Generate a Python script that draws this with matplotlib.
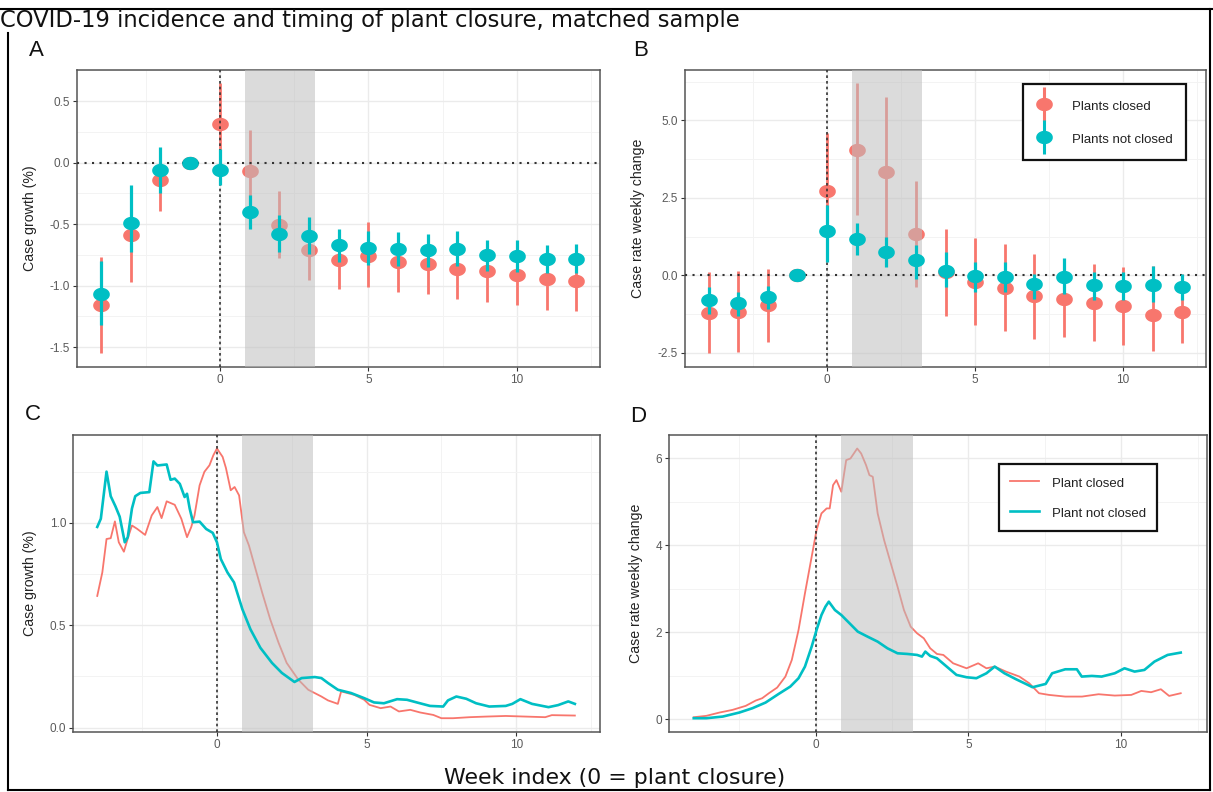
import matplotlib
matplotlib.use('Agg')
import matplotlib.pyplot as plt
import numpy as np
from matplotlib.lines import Line2D
from matplotlib.legend_handler import HandlerTuple

plt.rcParams['font.family'] = ['Liberation Sans', 'DejaVu Sans']

# ---------------- data ----------------
weeks = [-4, -3, -2, -1, 0, 1, 2, 3, 4, 5, 6, 7, 8, 9, 10, 11, 12]

# Panel A: case growth (%) weekly estimates
A_closed_est = [-1.16, -0.59, -0.14, 0.0, 0.31, -0.07, -0.505, -0.714, -0.795, -0.76, -0.81, -0.825, -0.863, -0.885, -0.912, -0.95, -0.966]
A_closed_lo = [-1.55, -0.97, -0.39, 0.0, -0.03, -0.40, -0.776, -0.958, -1.03, -1.01, -1.05, -1.066, -1.107, -1.134, -1.156, -1.20, -1.21]
A_closed_hi = [-0.77, -0.21, 0.12, 0.0, 0.643, 0.263, -0.233, -0.47, -0.56, -0.483, -0.57, -0.585, -0.62, -0.64, -0.67, -0.70, -0.72]
A_open_est = [-1.07, -0.49, -0.057, 0.0, -0.057, -0.40, -0.583, -0.60, -0.673, -0.695, -0.70, -0.714, -0.70, -0.754, -0.76, -0.787, -0.78]
A_open_lo = [-1.32, -0.73, -0.25, 0.0, -0.185, -0.54, -0.727, -0.74, -0.81, -0.83, -0.84, -0.85, -0.84, -0.88, -0.89, -0.90, -0.90]
A_open_hi = [-0.80, -0.185, 0.128, 0.0, 0.11, -0.266, -0.43, -0.44, -0.537, -0.56, -0.565, -0.583, -0.56, -0.632, -0.632, -0.673, -0.665]

# Panel B: case rate weekly change
B_closed_est = [-1.21, -1.17, -0.97, 0.0, 2.71, 4.06, 3.33, 1.33, 0.10, -0.22, -0.41, -0.68, -0.76, -0.89, -1.0, -1.28, -1.19]
B_closed_lo = [-2.51, -2.47, -2.14, 0.0, 0.8, 1.95, 1.0, -0.38, -1.30, -1.60, -1.79, -2.06, -2.0, -2.13, -2.25, -2.44, -2.19]
B_closed_hi = [0.11, 0.13, 0.22, 0.0, 4.6, 6.19, 5.74, 3.05, 1.49, 1.21, 1.0, 0.70, 0.5, 0.38, 0.27, 0.29, 0.05]
B_open_est = [-0.79, -0.89, -0.70, 0.0, 1.43, 1.17, 0.76, 0.49, 0.15, -0.02, -0.05, -0.29, -0.05, -0.32, -0.35, -0.30, -0.38]
B_open_lo = [-1.24, -1.3, -1.08, 0.0, 0.43, 0.67, 0.27, -0.11, -0.38, -0.54, -0.55, -0.76, -0.6, -0.8, -0.8, -0.85, -0.8]
B_open_hi = [-0.38, -0.54, -0.35, 0.0, 2.27, 1.68, 1.24, 0.97, 0.76, 0.43, 0.43, 0.05, 0.56, 0.11, 0.11, 0.29, 0.05]

# Panel C: case growth (%) daily series
C_closed_x = [-4.0, -3.83, -3.69, -3.55, -3.41, -3.28, -3.11, -2.95, -2.84, -2.67, -2.40, -2.18, -1.99, -1.85, -1.68, -1.41,
              -1.19, -1.0, -0.86, -0.75, -0.58, -0.42, -0.25, -0.12, 0.0, 0.19, 0.30, 0.46, 0.59, 0.74, 0.90, 1.07, 1.29,
              1.51, 1.78, 2.06, 2.33, 2.72, 3.05, 3.49, 3.71, 4.04, 4.15, 4.59, 4.92, 5.1, 5.47, 5.8, 6.08, 6.46, 6.79,
              7.23, 7.5, 7.89, 8.44, 8.99, 9.65, 10.31, 10.97, 11.19, 11.96]
C_closed_y = [0.643, 0.758, 0.921, 0.925, 1.007, 0.905, 0.859, 0.938, 0.987, 0.971, 0.941, 1.036, 1.077, 1.023, 1.105, 1.088,
              1.02, 0.93, 0.979, 1.036, 1.183, 1.249, 1.281, 1.33, 1.363, 1.322, 1.268, 1.159, 1.175, 1.134, 0.954, 0.889, 0.774,
              0.66, 0.529, 0.414, 0.316, 0.234, 0.185, 0.152, 0.133, 0.116, 0.177, 0.16, 0.136, 0.111, 0.095, 0.103, 0.079, 0.087, 0.074,
              0.062, 0.046, 0.046, 0.051, 0.054, 0.057, 0.054, 0.051, 0.061, 0.059]
C_open_x = [-4.0, -3.88, -3.69, -3.55, -3.39, -3.25, -3.08, -2.98, -2.84, -2.73, -2.56, -2.26, -2.12, -1.99, -1.68, -1.55,
            -1.41, -1.24, -1.08, -1.0, -0.91, -0.80, -0.58, -0.36, -0.14, 0.0, 0.13, 0.35, 0.57, 0.85, 1.12, 1.45, 1.84,
            2.17, 2.59, 2.83, 3.27, 3.49, 3.71, 4.04, 4.48, 4.92, 5.25, 5.58, 6.02, 6.35, 6.68, 7.12, 7.56, 7.72, 8.0,
            8.33, 8.66, 9.1, 9.65, 9.87, 10.14, 10.53, 11.08, 11.4, 11.74, 11.96]
C_open_y = [0.98, 1.02, 1.25, 1.13, 1.08, 1.03, 0.905, 0.93, 1.07, 1.13, 1.146, 1.15, 1.30, 1.28, 1.285, 1.21,
            1.216, 1.19, 1.126, 1.142, 1.069, 1.003, 1.006, 0.97, 0.951, 0.905, 0.823, 0.758, 0.709, 0.578, 0.48, 0.39, 0.316,
            0.267, 0.223, 0.242, 0.247, 0.242, 0.218, 0.185, 0.169, 0.144, 0.123, 0.119, 0.139, 0.136, 0.123, 0.106, 0.103, 0.133, 0.152,
            0.141, 0.119, 0.103, 0.106, 0.116, 0.139, 0.116, 0.10, 0.11, 0.128, 0.116]

# Panel D: case rate weekly change daily series
D_closed_x = [-3.99, -3.58, -3.15, -2.72, -2.29, -1.96, -1.75, -1.53, -1.26, -0.99, -0.78, -0.56, -0.35, -0.13, 0.03, 0.19,
              0.36, 0.46, 0.57, 0.68, 0.84, 1.0, 1.14, 1.36, 1.49, 1.65, 1.76, 1.87, 2.03, 2.24, 2.46, 2.68, 2.89, 3.11,
              3.32, 3.54, 3.75, 3.97, 4.18, 4.5, 4.94, 5.32, 5.59, 5.86, 6.23, 6.67, 6.99, 7.31, 7.64, 8.17, 8.72, 9.26,
              9.79, 10.33, 10.66, 10.98, 11.3, 11.57, 11.95]
D_closed_y = [0.046, 0.077, 0.153, 0.215, 0.307, 0.43, 0.483, 0.598, 0.728, 0.981, 1.364, 2.054, 2.897, 3.739, 4.352, 4.736,
              4.851, 4.851, 5.387, 5.502, 5.234, 5.962, 6.0, 6.23, 6.115, 5.847, 5.617, 5.579, 4.736, 4.123, 3.586, 3.05, 2.513, 2.13,
              1.977, 1.862, 1.632, 1.502, 1.479, 1.287, 1.172, 1.287, 1.172, 1.211, 1.096, 0.981, 0.828, 0.598, 0.559, 0.521, 0.521, 0.575,
              0.544, 0.559, 0.651, 0.621, 0.69, 0.536, 0.598]
D_open_x = [-3.99, -3.58, -3.04, -2.5, -2.07, -1.64, -1.21, -0.83, -0.56, -0.35, -0.13, 0.03, 0.19, 0.32, 0.43, 0.63,
            0.84, 1.11, 1.38, 1.70, 2.03, 2.35, 2.68, 3.0, 3.32, 3.48, 3.59, 3.75, 3.97, 4.29, 4.61, 4.94, 5.26, 5.59,
            5.86, 6.18, 6.56, 6.88, 7.1, 7.53, 7.74, 8.17, 8.55, 8.71, 9.04, 9.36, 9.79, 10.11, 10.44, 10.76, 11.09, 11.52, 11.95]
D_open_y = [0.023, 0.023, 0.061, 0.153, 0.253, 0.383, 0.582, 0.751, 0.943, 1.211, 1.671, 2.054, 2.398, 2.59, 2.705, 2.513,
            2.398, 2.207, 2.015, 1.9, 1.785, 1.632, 1.517, 1.502, 1.479, 1.441, 1.556, 1.456, 1.402, 1.211, 1.019, 0.966, 0.943, 1.057,
            1.211, 1.057, 0.92, 0.812, 0.736, 0.812, 1.057, 1.149, 1.149, 0.981, 0.996, 0.981, 1.057, 1.172, 1.096, 1.134, 1.326, 1.479, 1.533]

shade_start, shade_end = 0.83, 3.2

title = "COVID-19 incidence and timing of plant closure, matched sample"
xlabel = "Week index (0 = plant closure)"
legend_AB = ["Plants closed", "Plants not closed"]
legend_CD = ["Plant closed", "Plant not closed"]

A_yticks = [0.5, 0.0, -0.5, -1.0, -1.5]
B_yticks = [5.0, 2.5, 0.0, -2.5]
C_yticks = [0.0, 0.5, 1.0]
D_yticks = [0, 2, 4, 6]
x_ticks = [0, 5, 10]
x_minor = [-2.5, 2.5, 7.5, 12.5]

# ---------------- styling ----------------
RED = '#F8766D'
TEAL = '#00BFC4'
W, H = 1213, 792
fig = plt.figure(figsize=(W / 100, H / 100), dpi=100)

# slightly wide ellipse marker (the reference image is horizontally stretched)
_t = np.linspace(0, 2 * np.pi, 40)
ELL = list(zip(np.cos(_t), 0.78 * np.sin(_t)))


def px_axes(l, t, r, b):
    return fig.add_axes([l / W, 1 - b / H, (r - l) / W, (b - t) / H])


def expand(vals):
    lo, hi = min(vals), max(vals)
    pad = 0.05 * (hi - lo)
    return lo - pad, hi + pad


def style(ax, yticks, yminor, decimals, ylim, label, label_px, left_px, right_px):
    ax.set_xlim(*expand(weeks))
    ax.set_ylim(*ylim)
    ax.set_xticks(x_ticks)
    ax.set_xticks(x_minor, minor=True)
    ax.set_yticks(yticks)
    ax.set_yticks(yminor, minor=True)
    ax.set_yticklabels([f"{v:.{decimals}f}" for v in yticks])
    ax.set_axisbelow(True)
    ax.grid(which='major', color='#EBEBEB', lw=1.0, zorder=0)
    ax.grid(which='minor', color='#F3F3F3', lw=0.7, zorder=0)
    ax.tick_params(which='major', length=3, width=0.8, color='#333333', labelsize=8.5,
                   labelcolor='#5A5A5A', pad=2)
    ax.tick_params(which='minor', length=0)
    for sp in ax.spines.values():
        sp.set_color('#555555')
        sp.set_linewidth(1.1)
    ax.set_ylabel(label, fontsize=10.2, color='#222222', va='center')
    ax.yaxis.set_label_coords((label_px - left_px) / (right_px - left_px), 0.5)
    ax.axvspan(shade_start, shade_end, color='#BEBEBE', alpha=0.55, lw=0, zorder=3)
    ax.axvline(0, color='#333333', lw=1.2, ls=(0, (1.6, 1.8)), zorder=3.5)


def pointrange(ax, est, lo, hi, color, z, lw):
    yerr = [[e - l for e, l in zip(est, lo)], [h - e for e, h in zip(est, hi)]]
    ax.errorbar(weeks, est, yerr=yerr, marker=ELL, ls='none', color=color, ms=11, mec=color,
                elinewidth=lw, capsize=0, zorder=z)


def pr_handle(color):
    return (Line2D([], [], marker='|', ms=24, mew=2.2, color=color, ls='none'),
            Line2D([], [], marker=ELL, ms=11, color=color, ls='none'))


# Panel A
l, t, r, b = 77.3, 70, 600, 366.7
axA = px_axes(l, t, r, b)
style(axA, A_yticks, [0.75, 0.25, -0.25, -0.75, -1.25], 1,
      expand(A_closed_lo + A_closed_hi + A_open_lo + A_open_hi), "Case growth (%)", 30, l, r)
pointrange(axA, A_closed_est, A_closed_lo, A_closed_hi, RED, 2, 2.0)
axA.axhline(0, color='#333333', lw=1.5, ls=(0, (1, 2.6)), zorder=3.5)
pointrange(axA, A_open_est, A_open_lo, A_open_hi, TEAL, 4, 2.3)

# Panel B
l, t, r, b = 685, 70, 1206, 366.7
axB = px_axes(l, t, r, b)
style(axB, B_yticks, [6.25, 3.75, 1.25, -1.25], 1,
      expand(B_closed_lo + B_closed_hi + B_open_lo + B_open_hi), "Case rate weekly change", 638, l, r)
pointrange(axB, B_closed_est, B_closed_lo, B_closed_hi, RED, 2, 2.0)
axB.axhline(0, color='#333333', lw=1.5, ls=(0, (1, 2.6)), zorder=3.5)
pointrange(axB, B_open_est, B_open_lo, B_open_hi, TEAL, 4, 2.3)
legB = axB.legend(handles=[pr_handle(RED), pr_handle(TEAL)], labels=legend_AB,
                  handler_map={tuple: HandlerTuple(ndivide=1)},
                  loc='upper right', bbox_to_anchor=(0.961, 0.952), fontsize=9.5,
                  frameon=True, fancybox=False, edgecolor='#111111', framealpha=1, handlelength=1.2,
                  handleheight=1.6, labelspacing=1.2, borderpad=1.0, handletextpad=1.5, borderaxespad=0)
legB.get_frame().set_linewidth(1.6)
for tx in legB.get_texts():
    tx.set_color('#222222')

# Panel C
l, t, r, b = 73.3, 435, 600, 731.7
axC = px_axes(l, t, r, b)
style(axC, C_yticks, [0.25, 0.75, 1.25], 1, expand(C_closed_y + C_open_y), "Case growth (%)", 30, l, r)
axC.plot(C_closed_x, C_closed_y, color=RED, lw=1.3, zorder=2)
axC.plot(C_open_x, C_open_y, color=TEAL, lw=1.9, zorder=4)

# Panel D
l, t, r, b = 669, 435, 1206.7, 731.7
axD = px_axes(l, t, r, b)
style(axD, D_yticks, [1, 3, 5], 0, expand(D_closed_y + D_open_y), "Case rate weekly change", 636, l, r)
lr, = axD.plot(D_closed_x, D_closed_y, color=RED, lw=1.3, zorder=2)
lt, = axD.plot(D_open_x, D_open_y, color=TEAL, lw=1.9, zorder=4)
legD = axD.legend(handles=[lr, lt], labels=legend_CD, loc='upper right', bbox_to_anchor=(0.907, 0.901),
                  fontsize=9.5, frameon=True, fancybox=False, edgecolor='#111111', framealpha=1,
                  handlelength=2.2, handleheight=1.4, labelspacing=1.15, borderpad=0.8, handletextpad=1.0,
                  borderaxespad=0)
legD.get_frame().set_linewidth(1.6)
for tx in legD.get_texts():
    tx.set_color('#222222')

# Panel letters, title, shared x label
for letter, xp, yp in [("A", 36, 51), ("B", 641, 50), ("C", 33, 415), ("D", 638, 417)]:
    fig.text(xp / W, 1 - yp / H, letter, fontsize=16, ha='center', va='center', color='#111111')

fig.text(0.0, 1 - 27.5 / H, title, fontsize=16.3, family='DejaVu Sans', ha='left', va='baseline',
         color='#111111')
fig.text(615 / W, 1 - 784 / H, xlabel, fontsize=15.8, family='DejaVu Sans', ha='center', va='baseline',
         color='#111111')

# outer frame
frame_kw = dict(color='black', lw=1.5, transform=fig.transFigure)
fig.add_artist(Line2D([0, 1], [1 - 9 / H, 1 - 9 / H], **frame_kw))
fig.add_artist(Line2D([8 / W, 8 / W], [1 - 33 / H, 1 - 790 / H], **frame_kw))
fig.add_artist(Line2D([1210 / W, 1210 / W], [1 - 9 / H, 1 - 790 / H], **frame_kw))
fig.add_artist(Line2D([8 / W, 1210 / W], [1 - 790 / H, 1 - 790 / H], **frame_kw))

fig.savefig('out.png', dpi=100, facecolor='white')
